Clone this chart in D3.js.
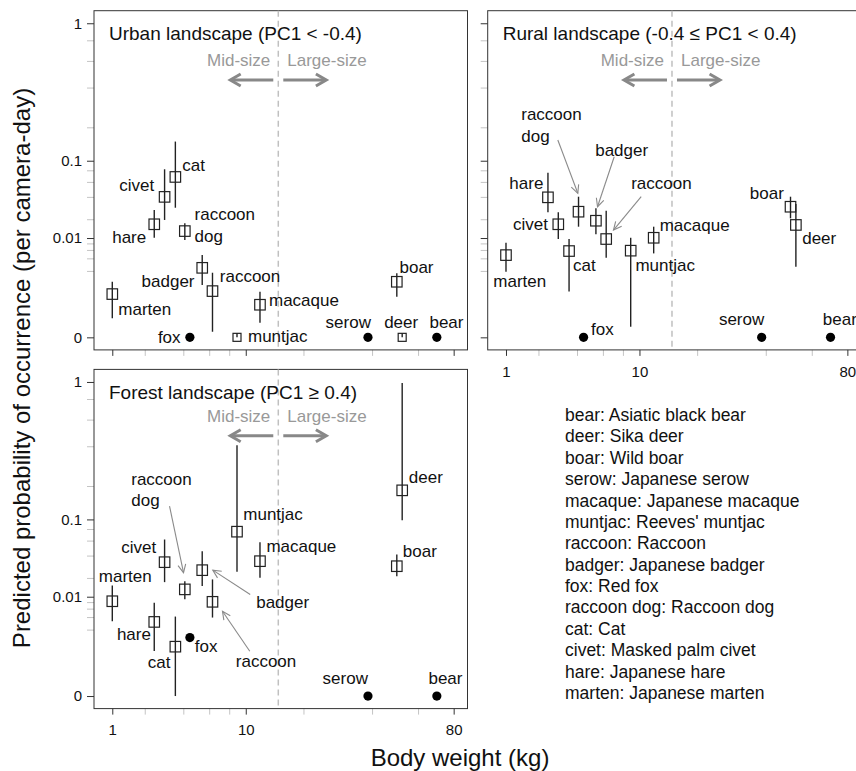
<!DOCTYPE html>
<html>
<head>
<meta charset="utf-8">
<script src="https://cdn.jsdelivr.net/npm/d3@7"></script>
<style>
  body { margin: 0; background: #fff; }
  text { font-family: "Liberation Sans", Arial, sans-serif; }
</style>
</head>
<body>
<div id="chart"></div>
<script>
const W = 856, H = 771;

// species in legend order, body weight (kg)
const species = ["bear", "deer", "boar", "serow", "macaque", "muntjac", "raccoon",
                 "badger", "fox", "raccoon dog", "cat", "civet", "hare", "marten"];
const weight  = [70, 52.4, 50, 38.5, 12, 8.9, 6.3, 5.4, 4.45, 4.1, 3.5, 2.9, 2.4, 1];
const fullNames = ["Asiatic black bear", "Sika deer", "Wild boar", "Japanese serow",
                   "Japanese macaque", "Reeves' muntjac", "Raccoon", "Japanese badger",
                   "Red fox", "Raccoon dog", "Cat", "Masked palm civet", "Japanese hare",
                   "Japanese marten"];

// predicted probability (estimate, lower, upper); null = not detected (filled dot)
const urbanEst = [0, 0, 0.00098, 0, 0.000116, 0, 0.00047, 0.0024, 0, 0.0131, 0.068, 0.040, 0.0168, 0.00036];
const urbanLo  = [null, 0, 0.00028, null, 0.0000047, 0, 0.0000001, 0.00077, null, 0.0092, 0.029, 0.0195, 0.0101, 0.0000134];
const urbanHi  = [null, 3e-8, 0.00173, null, 0.000445, 3e-8, 0.00179, 0.0047, null, 0.0174, 0.151, 0.082, 0.027, 0.00098];

const ruralEst = [0, 0.0164, 0.0299, 0, 0.0101, 0.0058, 0.0096, 0.019, 0, 0.0256, 0.0057, 0.0168, 0.0395, 0.0047];
const ruralLo  = [null, 0.00255, 0.0206, null, 0.0051, 0.0000013, 0.0041, 0.0116, null, 0.0154, 0.00045, 0.0096, 0.0251, 0.0019];
const ruralHi  = [null, 0.0325, 0.0402, null, 0.0154, 0.0101, 0.0264, 0.0285, null, 0.0402, 0.0096, 0.0251, 0.0755, 0.0082];

const forestEst = [0, 0.184, 0.0292, 0, 0.034, 0.075, 0.0081, 0.0258, 0.0012, 0.0133, 0.00061, 0.033, 0.0031, 0.0083];
const forestLo  = [null, 0.098, 0.0212, null, 0.0201, 0.0245, 0.0039, 0.015, null, 0.0090, 0, 0.0173, 0.00042, 0.0032];
const forestHi  = [null, 0.987, 0.0413, null, 0.0576, 0.406, 0.019, 0.0453, null, 0.0179, 0.0041, 0.0617, 0.0078, 0.0154];

// species shown with a small square at zero (urban only)
const smallSquares = ["deer", "muntjac"];

const yMajor = [0, 0.01, 0.1, 1];
const yMajorLabels = ["0", "0.01", "0.1", "1"];
const yMinor = [0.002, 0.004, 0.006, 0.008, 0.02, 0.04, 0.06, 0.08, 0.2, 0.4, 0.6, 0.8];
const xMajor = [1, 10, 80];
const xMinor = [2, 4, 6, 8, 20, 40, 60];
const sizeBreak = 15;

// label placement: [dx, dy, anchor, arrow (x0,y0,x1,y1) relative to point]
const labelPos = {
  urban: {
    "marten": [6, 15.3, "start"], "hare": [-8, 13, "end"], "civet": [-10.4, -12.4, "end"],
    "cat": [7, -11.7, "start"], "raccoon dog": [9.7, -17, "start"], "fox": [-9.3, 0, "end"],
    "badger": [-7.7, 13, "end"], "raccoon": [7.3, -15, "start"], "muntjac": [11, -1, "start"],
    "macaque": [9, -4.7, "start"], "serow": [3, -15.6, "end"], "boar": [2.7, -15, "start"],
    "deer": [-1, -15.6, "middle"], "bear": [-7.4, -15.6, "start"]
  },
  rural: {
    "marten": [13.8, 26, "middle"], "hare": [-4.6, -14.6, "end"], "civet": [-10.4, 0, "end"],
    "cat": [4, 14, "start"], "raccoon dog": [-57.3, -97.7, "start", [-20.7, -71.7, -0.7, -18.4]],
    "fox": [7.4, -8.3, "start"], "badger": [-0.7, -70.7, "start", [18.3, -64, 1.6, -14]],
    "raccoon": [25, -56.3, "start", [35, -42.3, 7.3, -9]], "muntjac": [4.7, 14.3, "start"],
    "macaque": [6, -12.7, "start"], "serow": [2.6, -18.3, "end"], "boar": [-6.7, -14, "end"],
    "deer": [6.3, 12.7, "start"], "bear": [-7.7, -18.3, "start"]
  },
  forest: {
    "marten": [13, -25.7, "middle"], "hare": [-3.3, 11.7, "end"], "civet": [-8.3, -15, "end"],
    "cat": [-5, 15.4, "end"], "raccoon dog": [-53.6, -110.7, "start", [-15.3, -83.3, -1.3, -16.7]],
    "fox": [5, 8.4, "start"], "badger": [54, 31.6, "start", [48, 24.3, 10.6, 0]],
    "raccoon": [23.3, 59.4, "start", [37.3, 49.4, 10, 9.4]], "muntjac": [6.3, -18, "start"],
    "macaque": [6.4, -15, "start"], "boar": [6, -15, "start"], "deer": [6.6, -13.4, "start"],
    "serow": [0, -18.4, "end"], "bear": [-8.4, -18.4, "start"]
  }
};

const svg = d3.select("#chart").append("svg")
  .attr("width", W).attr("height", H)
  .style("background", "#fff");

const frameW = 373.5, frameH = 339.2;
const padX = frameW / 1.08 * 0.04, padY = frameH / 1.08 * 0.04;

const panels = [
  {name: "urban", title: "Urban landscape (PC1 < -0.4)", left: 94, top: 10.7,
   est: urbanEst, lo: urbanLo, hi: urbanHi, xLabels: false, yLabels: true, shift: 0},
  {name: "rural", title: "Rural landscape (-0.4 \u2264 PC1 < 0.4)", left: 487.7, top: 10.7,
   est: ruralEst, lo: ruralLo, hi: ruralHi, xLabels: true, yLabels: false, shift: 0},
  {name: "forest", title: "Forest landscape (PC1 \u2265 0.4)", left: 94, top: 369.4,
   est: forestEst, lo: forestLo, hi: forestHi, xLabels: true, yLabels: true, shift: -3}
];

function arrowHead(g, x0, y0, x1, y1, len, ang, color, sw) {
  const a = Math.atan2(y1 - y0, x1 - x0);
  const p1 = [x1 - len * Math.cos(a - ang), y1 - len * Math.sin(a - ang)];
  const p2 = [x1 - len * Math.cos(a + ang), y1 - len * Math.sin(a + ang)];
  g.append("path")
    .attr("d", `M${p1[0]},${p1[1]}L${x1},${y1}L${p2[0]},${p2[1]}`)
    .attr("fill", "none").attr("stroke", color).attr("stroke-width", sw);
}

panels.forEach(function(p) {
  const g = svg.append("g");
  const x = d3.scalePow().exponent(0.25).domain([0.9, 80])
    .range([p.left + padX, p.left + frameW - padX]);
  const y = d3.scalePow().exponent(0.25).domain([0, 1])
    .range([p.top + frameH - padY, p.top + padY]);
  const bottom = p.top + frameH;

  // y ticks
  const gyMin = g.append("g").attr("transform", `translate(${p.left},0)`)
    .call(d3.axisLeft(y).tickValues(yMinor).tickSize(7).tickFormat(""));
  gyMin.select(".domain").remove();
  gyMin.selectAll("line").attr("stroke", "#c4c4c4");
  const gy = g.append("g").attr("transform", `translate(${p.left},0)`)
    .call(d3.axisLeft(y).tickValues(yMajor).tickSize(7).tickPadding(5)
      .tickFormat((d, i) => p.yLabels ? yMajorLabels[i] : ""));
  gy.select(".domain").remove();
  gy.selectAll("line").attr("stroke", "#333");
  gy.selectAll("text").attr("font-size", 15).attr("fill", "#111")
    .attr("font-family", "Liberation Sans, Arial, sans-serif");

  // x ticks
  const gxMin = g.append("g").attr("transform", `translate(0,${bottom})`)
    .call(d3.axisBottom(x).tickValues(xMinor).tickSize(6).tickFormat(""));
  gxMin.select(".domain").remove();
  gxMin.selectAll("line").attr("stroke", "#c4c4c4");
  const gx = g.append("g").attr("transform", `translate(0,${bottom})`)
    .call(d3.axisBottom(x).tickValues(xMajor).tickSize(6).tickPadding(10)
      .tickFormat(d => p.xLabels ? String(d) : ""));
  gx.select(".domain").remove();
  gx.selectAll("line").attr("stroke", "#333");
  gx.selectAll("text").attr("font-size", 15).attr("fill", "#111")
    .attr("font-family", "Liberation Sans, Arial, sans-serif");

  // frame
  g.append("rect").attr("x", p.left).attr("y", p.top)
    .attr("width", frameW).attr("height", frameH)
    .attr("fill", "none").attr("stroke", "#333").attr("stroke-width", 1);

  // size break
  const xb = x(sizeBreak);
  g.append("line").attr("x1", xb).attr("x2", xb)
    .attr("y1", p.top).attr("y2", bottom)
    .attr("stroke", "#c0c0c0").attr("stroke-width", 1.5).attr("stroke-dasharray", "6,4");

  g.append("text").attr("x", xb - 8).attr("y", p.top + 55.4 + p.shift)
    .attr("text-anchor", "end").attr("font-size", 17).attr("fill", "#999").text("Mid-size");
  g.append("text").attr("x", xb + 9).attr("y", p.top + 55.4 + p.shift)
    .attr("text-anchor", "start").attr("font-size", 17).attr("fill", "#999").text("Large-size");

  const ay = p.top + 69.3 + p.shift;
  [[-5, -48], [5, 48]].forEach(function(a) {
    g.append("line").attr("x1", xb + a[0]).attr("x2", xb + a[1] - Math.sign(a[1]) * 2)
      .attr("y1", ay).attr("y2", ay).attr("stroke", "#888").attr("stroke-width", 3);
    arrowHead(g, xb + a[0], ay, xb + a[1], ay, 12, Math.PI / 6, "#888", 3);
  });

  // title
  g.append("text").attr("x", p.left + 15).attr("y", p.top + 29.4)
    .attr("font-size", 19).attr("fill", "#111").text(p.title);

  // marks
  species.forEach(function(s, i) {
    const px = x(weight[i]), py = y(p.est[i]);
    if (p.lo[i] !== null) {
      g.append("line").attr("x1", px).attr("x2", px)
        .attr("y1", y(p.lo[i])).attr("y2", y(p.hi[i]))
        .attr("stroke", "#222").attr("stroke-width", 1.4);
      const sz = (p.name === "urban" && smallSquares.includes(s)) ? 8 : 10.5;
      g.append("rect").attr("x", px - sz / 2).attr("y", py - sz / 2)
        .attr("width", sz).attr("height", sz)
        .attr("fill", "none").attr("stroke", "#222").attr("stroke-width", 1.2);
    } else {
      g.append("circle").attr("cx", px).attr("cy", py).attr("r", 4.6).attr("fill", "#000");
    }

    const lp = labelPos[p.name][s];
    const t = g.append("text").attr("x", px + lp[0]).attr("y", py + lp[1] + 6.1)
      .attr("text-anchor", lp[2]).attr("font-size", 17).attr("fill", "#111");
    if (s === "raccoon dog") {
      t.append("tspan").attr("x", px + lp[0]).text("raccoon");
      t.append("tspan").attr("x", px + lp[0]).attr("dy", 21.5).text("dog");
    } else {
      t.text(s);
    }
    if (lp[3]) {
      const a = lp[3];
      g.append("line").attr("x1", px + a[0]).attr("y1", py + a[1])
        .attr("x2", px + a[2]).attr("y2", py + a[3])
        .attr("stroke", "#8a8a8a").attr("stroke-width", 1.1);
      arrowHead(g, px + a[0], py + a[1], px + a[2], py + a[3], 9, Math.PI / 7, "#8a8a8a", 1.1);
    }
  });
});

// legend of abbreviations
svg.append("g").selectAll("text")
  .data(species)
  .join("text")
  .attr("x", 565)
  .attr("y", (d, i) => 415 + i * 21.38 + 6)
  .attr("font-size", 17.5).attr("fill", "#111")
  .text((d, i) => `${d}: ${fullNames[i]}`);

// axis titles
svg.append("text")
  .attr("transform", "translate(30,368) rotate(-90)")
  .attr("text-anchor", "middle").attr("font-size", 24).attr("fill", "#111")
  .text("Predicted probability of occurrence (per camera-day)");

svg.append("text")
  .attr("x", 460).attr("y", 766)
  .attr("text-anchor", "middle").attr("font-size", 24).attr("fill", "#111")
  .text("Body weight (kg)");
</script>
</body>
</html>
